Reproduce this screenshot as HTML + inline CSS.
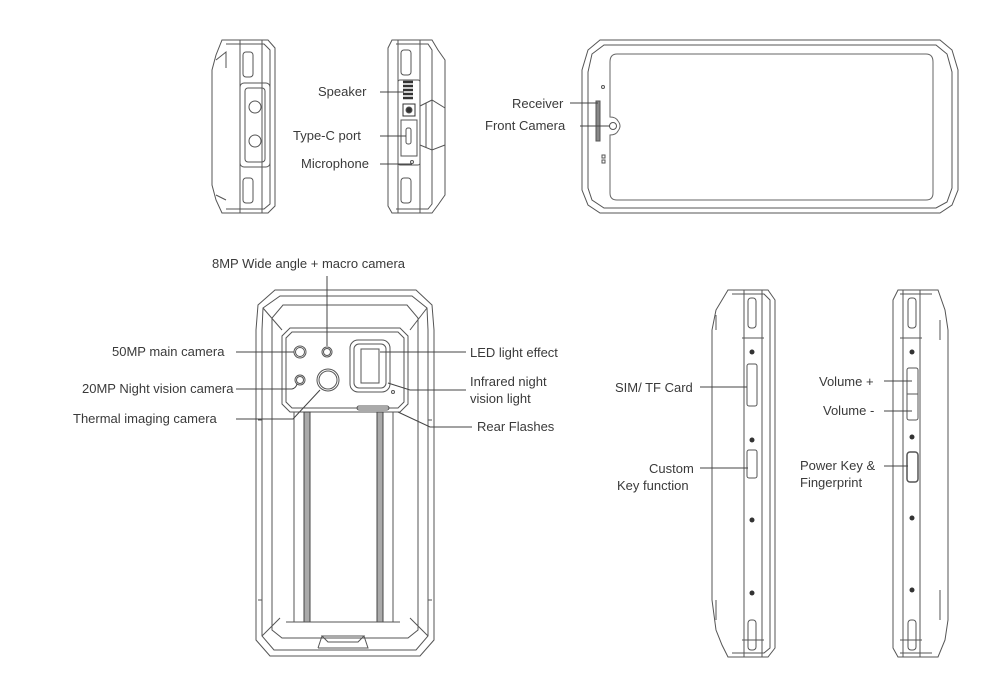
<!DOCTYPE html>
<html><head><meta charset="utf-8"><style>
html,body{margin:0;padding:0;background:#fff;}
svg{display:block}
text{font-family:"Liberation Sans",sans-serif;font-size:13px;fill:#3a3a3a}
</style></head><body>
<svg width="1003" height="688" viewBox="0 0 1003 688" xmlns="http://www.w3.org/2000/svg">
<g fill="none" stroke="#555" stroke-width="1">
<path d="M222 40 L268 40 L275 48 L275 206 L268 213 L222 213 L216 200 L212 185 L212 70 L216 55 Z"/>
<path d="M226 44 L264 44 L270 50 L270 204 L264 209 L226 209"/>
<path d="M240 40 L240 213 M262 40 L262 213"/>
<rect x="243" y="52" width="10" height="25" rx="3"/>
<rect x="243" y="178" width="10" height="25" rx="3"/>
<rect x="240" y="83" width="30" height="84" rx="4"/>
<rect x="245" y="88" width="20" height="74" rx="3"/>
<circle cx="255" cy="107" r="6"/><circle cx="255" cy="141" r="6"/>
<path d="M216 60 L226 52 L226 68 M216 195 L226 200"/>
<path d="M392 40 L432 40 L438 50 L445 60 L445 195 L438 205 L432 213 L392 213 L388 206 L388 48 Z"/>
<path d="M396 44 L428 44 L432 50 L432 204 L428 209 L396 209"/>
<path d="M398 40 L398 213 M420 40 L420 213"/>
<rect x="401" y="50" width="10" height="25" rx="3"/>
<rect x="401" y="178" width="10" height="25" rx="3"/>
<rect x="398" y="80" width="22" height="85" rx="2"/>
<path d="M403 82 h10 M403 86 h10 M403 90 h10 M403 94 h10 M403 98 h10" stroke-width="2.5" stroke="#333"/>
<rect x="403" y="104" width="12" height="12" stroke="#333"/><circle cx="409" cy="110" r="3" fill="#333"/>
<rect x="401" y="120" width="16" height="36"/>
<rect x="406" y="128" width="5" height="16" rx="2"/>
<circle cx="412" cy="162" r="1.5"/>
<path d="M420 106 L432 100 L445 108 L445 145 L432 150 L420 145 Z"/>
<path d="M426 103 L426 148"/>
<path d="M600 40 L940 40 L952 50 L958 70 L958 190 L952 205 L940 213 L600 213 L588 205 L582 190 L582 70 L588 50 Z"/>
<path d="M604 45 L936 45 L947 54 L952 72 L952 188 L947 202 L936 208 L604 208 L592 200 L588 188 L588 72 L592 54 Z"/>
<path d="M610 117 Q616 117 618 121 Q622 126 618 131 Q616 135 610 135 L610 193 Q610 200 617 200 L926 200 Q933 200 933 193 L933 62 Q933 54 926 54 L617 54 Q610 54 610 62 Z" stroke="#666"/>
<circle cx="613" cy="126" r="3.5"/>
<circle cx="603" cy="87" r="1.5"/>
<rect x="596" y="101" width="4" height="40" fill="#888"/>
<rect x="602" y="155" width="3" height="3"/><rect x="602" y="160" width="3" height="3"/>
<path d="M275 290 L416 290 L432 305 L434 330 L434 640 L420 656 L270 656 L256 640 L256 330 L258 305 Z"/>
<path d="M280 296 L412 296 L427 308 L428 330 L428 636 L416 650 L274 650 L262 636 L262 330 L263 308 Z"/>
<path d="M283 305 L407 305 L418 318 L418 630 L408 638 L282 638 L272 630 L272 318 Z"/>
<path d="M263 308 L282 330 M427 308 L410 330 M262 636 L280 618 M428 636 L410 618"/>
<path d="M290 328 L400 328 L408 336 L408 404 L400 412 L290 412 L282 404 L282 336 Z"/>
<path d="M292 332 L398 332 L404 338 L404 402 L398 408 L292 408 L286 402 L286 338 Z"/>
<circle cx="300" cy="352" r="6"/><circle cx="300" cy="352" r="4.5"/>
<circle cx="327" cy="352" r="5"/><circle cx="327" cy="352" r="3.5"/>
<circle cx="300" cy="380" r="5"/><circle cx="300" cy="380" r="3.5"/>
<circle cx="328" cy="380" r="11"/><circle cx="328" cy="380" r="9"/>
<rect x="350" y="340" width="40" height="52" rx="8"/>
<rect x="354" y="344" width="32" height="44" rx="5"/>
<rect x="361" y="349" width="18" height="34"/>
<circle cx="393" cy="392" r="1.5"/>
<rect x="357" y="406" width="32" height="4" rx="2"/>
<rect x="304" y="412" width="6" height="210" fill="#aaa" stroke="#444"/>
<rect x="377" y="412" width="6" height="210" fill="#aaa" stroke="#444"/>
<path d="M294 412 L294 622 M393 412 L393 622 M286 622 L400 622"/>
<path d="M322 636 L328 642 L358 642 L364 636 Z M318 648 L368 648 L364 636 M318 648 L322 636"/>
<path d="M258 420 L262 420 L262 600 L258 600"/>
<path d="M432 420 L428 420 L428 600 L432 600"/>
<path d="M728 290 L768 290 L775 300 L775 648 L768 657 L728 657 L722 645 L716 630 L712 600 L712 330 L716 310 Z"/>
<path d="M744 290 L744 657 M762 290 L762 657"/>
<path d="M732 294 L764 294 L770 300 L770 648 L764 653 L732 653"/>
<rect x="748" y="298" width="8" height="30" rx="3"/>
<rect x="748" y="620" width="8" height="30" rx="3"/>
<path d="M742 338 L764 338 M742 640 L764 640"/>
<rect x="747" y="364" width="10" height="42" rx="2"/>
<rect x="747" y="450" width="10" height="28" rx="2"/>
<path d="M716 315 L716 330 M716 600 L716 620"/>
<path d="M898 290 L938 290 L945 310 L948 330 L948 620 L945 640 L938 657 L898 657 L893 648 L893 300 Z"/>
<path d="M903 290 L903 657 M920 290 L920 657"/>
<path d="M900 294 L932 294 M900 653 L932 653"/>
<rect x="908" y="298" width="8" height="30" rx="3"/>
<rect x="908" y="620" width="8" height="30" rx="3"/>
<path d="M900 338 L922 338 M900 640 L922 640"/>
<rect x="907" y="368" width="11" height="52" rx="2"/><path d="M907 394 h11"/>
<rect x="907" y="452" width="11" height="30" rx="3" stroke-width="1.5"/>
<path d="M940 320 L940 340 M940 590 L940 620"/>
</g>
<g fill="#333">
<circle cx="752" cy="352" r="2.5"/><circle cx="752" cy="440" r="2.5"/><circle cx="752" cy="520" r="2.5"/><circle cx="752" cy="593" r="2.5"/>
<circle cx="912" cy="352" r="2.5"/><circle cx="912" cy="437" r="2.5"/><circle cx="912" cy="518" r="2.5"/><circle cx="912" cy="590" r="2.5"/>
</g>
<g stroke="#444" stroke-width="1" fill="none">
<path d="M380 92 H404 M380 136 H406 M380 164 H412"/>
<path d="M570 103 H598 M580 126 H610"/>
<path d="M327 276 V346"/>
<path d="M236 352 H294 M236 389 H292 Q296 388 297 384 M236 419 H293 L320 390"/>
<path d="M380 352 H466 M388 383 L410 390 H466 M398 412 L430 427 H472"/>
<path d="M700 387 H747 M700 468 H748"/>
<path d="M884 381 H912 M884 411 H912 M884 466 H908"/>
</g>
<g>
<text x="318" y="96">Speaker</text>
<text x="293" y="140">Type-C port</text>
<text x="301" y="168">Microphone</text>
<text x="512" y="108">Receiver</text>
<text x="485" y="130">Front Camera</text>
<text x="212" y="268">8MP Wide angle + macro camera</text>
<text x="112" y="356">50MP main camera</text>
<text x="82" y="393">20MP Night vision camera</text>
<text x="73" y="423">Thermal imaging camera</text>
<text x="470" y="357">LED light effect</text>
<text x="470" y="386">Infrared night</text>
<text x="470" y="403">vision light</text>
<text x="477" y="431">Rear Flashes</text>
<text x="615" y="392">SIM/ TF Card</text>
<text x="649" y="473">Custom</text>
<text x="617" y="490">Key function</text>
<text x="819" y="386">Volume +</text>
<text x="823" y="415">Volume -</text>
<text x="800" y="470">Power Key &amp;</text>
<text x="800" y="487">Fingerprint</text>
</g>
</svg>
</body></html>
